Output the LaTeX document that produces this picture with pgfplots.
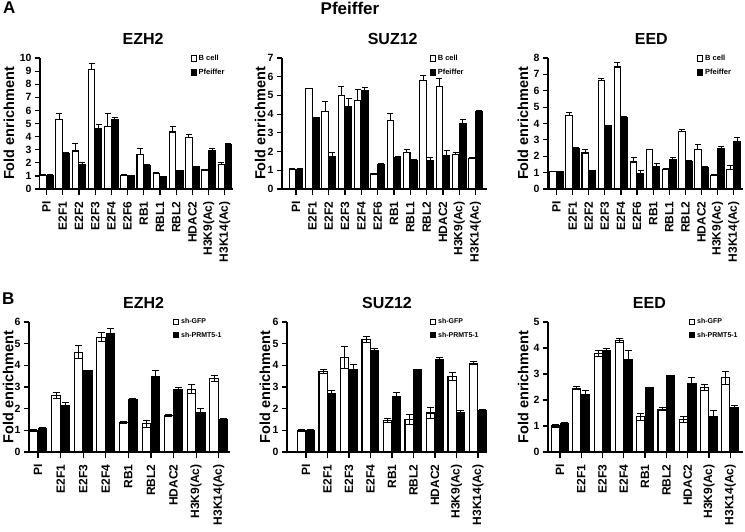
\documentclass[border=0pt]{standalone}
\usepackage{pgfplots}
\pgfplotsset{compat=1.18}
\usepackage{pgfplotstable}
\usepackage{fontspec}
\setmainfont{Liberation Sans}
\newcommand\fs[1]{\bfseries\fontsize{#1}{#1}\selectfont}

\pgfplotstableread{
x a ae b be
0 1.05 0.03 1.05 0.03
1 5.3 0.5 2.7 0.05
2 2.9 0.6 1.9 0.15
3 9.1 0.45 4.65 0.25
4 4.8 1.0 5.3 0.15
5 1.05 0.05 1.0 0.03
6 2.6 0.5 1.8 0.05
7 1.2 0.05 0.95 0.03
8 4.35 0.4 1.4 0.05
9 3.95 0.2 1.7 0.05
10 1.45 0.03 2.9 0.2
11 1.9 0.1 3.4 0.1
}\AEZH
\pgfplotstableread{
x a ae b be
0 1.05 0.03 1.05 0.03
1 5.35 0.03 3.8 0.03
2 4.15 0.55 1.75 0.2
3 5.0 0.5 4.4 0.45
4 4.75 0.55 5.25 0.15
5 0.8 0.05 1.3 0.05
6 3.65 0.4 1.7 0.05
7 1.95 0.15 1.5 0.1
8 5.8 0.25 1.5 0.2
9 5.5 0.4 1.8 0.25
10 1.85 0.1 3.5 0.2
11 1.65 0.03 4.15 0.05
}\ASUZ
\pgfplotstableread{
x a ae b be
0 1.05 0.03 1.05 0.03
1 4.5 0.2 2.5 0.05
2 2.2 0.2 1.1 0.03
3 6.6 0.15 3.85 0.05
4 7.45 0.3 4.35 0.05
5 1.65 0.3 0.95 0.2
6 2.4 0.03 1.4 0.15
7 1.2 0.05 1.8 0.1
8 3.5 0.15 1.7 0.05
9 2.4 0.3 1.3 0.1
10 0.8 0.1 2.5 0.1
11 1.2 0.25 2.9 0.25
}\AEED
\pgfplotstableread{
x a ae b be
0 1.0 0.05 1.07 0.05
1 2.6 0.15 2.15 0.15
2 4.6 0.3 3.75 0.03
3 5.3 0.2 5.45 0.25
4 1.35 0.05 2.4 0.05
5 1.3 0.15 3.5 0.25
6 1.67 0.05 2.88 0.1
7 2.9 0.2 1.8 0.2
8 3.4 0.15 1.5 0.03
}\BEZH
\pgfplotstableread{
x a ae b be
0 1.0 0.05 1.0 0.02
1 3.72 0.08 2.7 0.12
2 4.35 0.5 3.8 0.25
3 5.2 0.15 4.7 0.08
4 1.45 0.08 2.58 0.15
5 1.5 0.25 3.8 0.03
6 1.8 0.25 4.25 0.1
7 3.48 0.2 1.82 0.1
8 4.1 0.08 1.92 0.02
}\BSUZ
\pgfplotstableread{
x a ae b be
0 1.0 0.05 1.1 0.05
1 2.45 0.06 2.2 0.15
2 3.8 0.12 3.9 0.1
3 4.3 0.08 3.55 0.35
4 1.35 0.15 2.48 0.02
5 1.65 0.05 2.93 0.02
6 1.25 0.1 2.65 0.2
7 2.48 0.12 1.35 0.25
8 2.85 0.25 1.7 0.08
}\BEED

\pgfplotsset{
 chip/.style={
  scale only axis, ybar=0.6pt, ymin=0, clip=false,
  axis lines*=left, axis line style={line width=1.4pt,-},
  xtick align=outside, ytick align=outside, major tick length=5pt,
  xtick style={draw=black, line width=1.2pt, /pgfplots/major tick length=6pt},
  ytick style={draw=black, line width=1.2pt},
  xtick=data, ytick distance=1,
  xticklabel shift=4pt,
  x tick label style={rotate=90, anchor=east, font=\fs{12}},
  y tick label style={font=\fs{10.5}},
  /pgf/number format/assume math mode=true,
  ylabel={Fold enrichment},
  ylabel style={font=\fs{14.5}, anchor=center},
  title style={font=\fs{16}, anchor=base, yshift=8pt},
  legend style={draw=none, fill=none, anchor=north west, inner sep=0pt, row sep=3pt, legend cell align=left, font=\fs{7.5}},
  every axis plot post/.append style={legend image code/.code={\draw[##1, line width=0.8pt] (0pt,-2.6pt) rectangle (5.2pt,2.6pt);}},
 },
 catA/.style={xticklabels={PI,E2F1,E2F2,E2F3,E2F4,E2F6,RB1,RBL1,RBL2,HDAC2,H3K9(Ac),H3K14(Ac)}, bar width=0.4},
 catB/.style={xticklabels={PI,E2F1,E2F3,E2F4,RB1,RBL2,HDAC2,H3K9(Ac),H3K14(Ac)}, bar width=0.38},
 wA/.style={fill=white, draw=black, line width=1.1pt, error bars/.cd, y dir=plus, y explicit, error bar style={line width=1pt, black}, error mark options={rotate=90, mark size=3pt, line width=1pt, black}},
 kA/.style={fill=black, draw=black, line width=1.1pt, error bars/.cd, y dir=plus, y explicit, error bar style={line width=1pt, black}, error mark options={rotate=90, mark size=3pt, line width=1pt, black}},
 wB/.style={fill=white, draw=black, line width=1.1pt, error bars/.cd, y dir=both, y explicit, error bar style={line width=1pt, black}, error mark options={rotate=90, mark size=3.5pt, line width=1pt, black}},
 kB/.style={fill=black, draw=black, line width=1.1pt, error bars/.cd, y dir=both, y explicit, error bar style={line width=1pt, black}, error mark options={rotate=90, mark size=3.5pt, line width=1pt, black}},
}

\begin{document}
\begin{tikzpicture}
\path[use as bounding box] (0,0) rectangle (745pt,-531pt);
\node[anchor=north west, font=\fs{17}, inner sep=0pt] at (3pt,-2pt) {A};
\node[anchor=north west, font=\fs{17}, inner sep=0pt] at (2pt,-293pt) {B};
\node[anchor=base, font=\fs{17}, inner sep=0pt] at (350pt,-14pt) {Pfeiffer};

% ---- A EZH2
\begin{axis}[chip, catA, at={(40pt,-189pt)}, anchor=south west, width=193pt, height=131pt,
  ymax=10, xmin=-0.4, xmax=11.5,
  title={EZH2}, title style={at={(axis description cs:0.534,1)}},
  ylabel style={at={(axis description cs:-0.161,0.5)}},
  legend style={at={(axis description cs:0.78,1.04)}}]
\addplot[wA] table[x=x, y=a, y error=ae] {\AEZH};
\addplot[kA] table[x=x, y=b, y error=be] {\AEZH};
\legend{B cell, Pfeiffer}
\end{axis}

% ---- A SUZ12
\begin{axis}[chip, catA, at={(282pt,-189pt)}, anchor=south west, width=205pt, height=131pt,
  ymax=7, xmin=-0.86, xmax=11.7,
  title={SUZ12}, title style={at={(axis description cs:0.54,1)}},
  ylabel style={at={(axis description cs:-0.107,0.5)}},
  legend style={at={(axis description cs:0.72,1.04)}}]
\addplot[wA] table[x=x, y=a, y error=ae] {\ASUZ};
\addplot[kA] table[x=x, y=b, y error=be] {\ASUZ};
\legend{B cell, Pfeiffer}
\end{axis}

% ---- A EED
\begin{axis}[chip, catA, at={(548pt,-189pt)}, anchor=south west, width=195pt, height=131pt,
  ymax=8, xmin=-0.53, xmax=11.58,
  title={EED}, title style={at={(axis description cs:0.53,1)}},
  ylabel style={at={(axis description cs:-0.128,0.5)}},
  legend style={at={(axis description cs:0.764,1.04)}}]
\addplot[wA] table[x=x, y=a, y error=ae] {\AEED};
\addplot[kA] table[x=x, y=b, y error=be] {\AEED};
\legend{B cell, Pfeiffer}
\end{axis}

% ---- B EZH2
\begin{axis}[chip, catB, at={(29pt,-452pt)}, anchor=south west, width=201pt, height=130pt,
  ymax=6, xmin=-0.4, xmax=8.5,
  title={EZH2}, title style={at={(axis description cs:0.57,1)}},
  ylabel style={at={(axis description cs:-0.104,0.5)}},
  legend style={at={(axis description cs:0.716,1.045)}, font=\fs{7}}]
\addplot[wB] table[x=x, y=a, y error=ae] {\BEZH};
\addplot[kB] table[x=x, y=b, y error=be] {\BEZH};
\legend{sh-GFP, sh-PRMT5-1}
\end{axis}

% ---- B SUZ12
\begin{axis}[chip, catB, at={(287pt,-452pt)}, anchor=south west, width=200pt, height=130pt,
  ymax=6, xmin=-0.88, xmax=8.42,
  title={SUZ12}, title style={at={(axis description cs:0.5,1)}},
  ylabel style={at={(axis description cs:-0.11,0.5)}},
  legend style={at={(axis description cs:0.715,1.045)}, font=\fs{7}}]
\addplot[wB] table[x=x, y=a, y error=ae] {\BSUZ};
\addplot[kB] table[x=x, y=b, y error=be] {\BSUZ};
\legend{sh-GFP, sh-PRMT5-1}
\end{axis}

% ---- B EED
\begin{axis}[chip, catB, at={(548pt,-452pt)}, anchor=south west, width=195pt, height=130pt,
  ymax=5, xmin=-0.56, xmax=8.6,
  title={EED}, title style={at={(axis description cs:0.52,1)}},
  ylabel style={at={(axis description cs:-0.127,0.5)}},
  legend style={at={(axis description cs:0.723,1.045)}, font=\fs{7}}]
\addplot[wB] table[x=x, y=a, y error=ae] {\BEED};
\addplot[kB] table[x=x, y=b, y error=be] {\BEED};
\legend{sh-GFP, sh-PRMT5-1}
\end{axis}
\end{tikzpicture}
\end{document}
